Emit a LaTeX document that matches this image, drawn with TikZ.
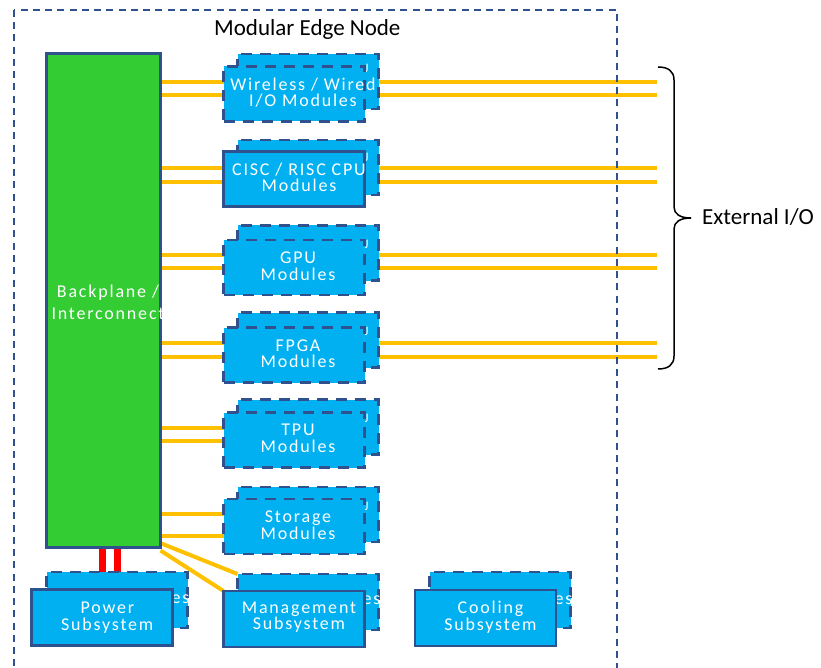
\documentclass[tikz,border=0pt]{standalone}
\usepackage{fontspec}
\setmainfont{Carlito}
\newfontfamily\spacedfont[LetterSpace=10]{Carlito}
\usetikzlibrary{calc}
\definecolor{boxblue}{HTML}{00B0F0}
\definecolor{edgeblue}{HTML}{2F528F}
\definecolor{bpgreen}{HTML}{33CC33}
\definecolor{wire}{HTML}{FFC000}
\definecolor{pwr}{HTML}{FF0000}
\pgfdeclarelayer{bg}
\pgfsetlayers{bg,main}
\begin{document}
\begin{tikzpicture}[x=1pt,y=-1pt,
  modbox/.style={rectangle, draw=edgeblue, fill=boxblue, line width=2.75pt,
    minimum width=141pt, minimum height=55pt, inner sep=0pt, outer sep=0pt},
  lowbox/.style={modbox, minimum height=56pt},
  dashbox/.style={modbox, dash pattern=on 11pt off 8pt},
  lowdash/.style={lowbox, dash pattern=on 11pt off 8pt},
  modtext/.style={text=white, font=\spacedfont\fontsize{18}{16.5}\selectfont, align=center, inner sep=0pt},
  frag/.style={text=white, font=\spacedfont\fontsize{18}{16.5}\selectfont, inner sep=0pt},
  jfrag/.style={text=white, font=\spacedfont\fontsize{13}{13}\selectfont, inner sep=0pt},
  wireline/.style={draw=wire, line width=4pt},
  pline/.style={draw=pwr, line width=7pt},
  outerbox/.style={draw=edgeblue, line width=1.75pt, dash pattern=on 7pt off 5.25pt},
  bigtext/.style={font=\fontsize{23}{27}\selectfont, inner sep=0pt, text=black},
  bracepath/.style={draw=black, line width=1.5pt}
]
\useasboundingbox (0,0) rectangle (821,668);
\clip (0,0) rectangle (821,668);

% outer node frame
\draw[outerbox] (14,10) rectangle (617,700);
\node[bigtext, anchor=base west] (title) at (214,36) {Modular Edge Node};

% backplane
\node[rectangle, draw=edgeblue, fill=bpgreen, line width=3pt, minimum width=114pt,
  minimum height=494pt, inner sep=0pt, outer sep=0pt] (bp) at (103.5,300.5) {};
\node[modtext, font=\spacedfont\fontsize{18}{22}\selectfont] (bpt) at ($(bp.center)+(4.5,1.5)$) {Backplane /\\Interconnect};

% row 1
\node[dashbox] (r1b) at (308,81.5) {};
\node[jfrag] (r1j) at ($(r1b.north east)+(-12,14)$) {J};
\node[dashbox] (r1f) at (294,94) {};
\node[modtext] (r1t) at ($(r1f.center)+(9,-1.5)$) {Wireless / Wired\\I/O Modules};
% row 2
\node[dashbox] (r2b) at (308,167.5) {};
\node[jfrag] (r2j) at ($(r2b.north east)+(-12,17)$) {J};
\node[modbox] (r2f) at (294,179) {};
\node[modtext] (r2t) at ($(r2f.center)+(5,-1.5)$) {CISC / RISC CPU\\Modules};
% row 3
\node[dashbox] (r3b) at (308,253) {};
\node[jfrag] (r3j) at ($(r3b.north east)+(-12,19)$) {J};
\node[dashbox] (r3f) at (294,267.5) {};
\node[modtext] (r3t) at ($(r3f.center)+(4,-1.5)$) {GPU\\Modules};
% row 4
\node[dashbox] (r4b) at (308,340) {};
\node[jfrag] (r4j) at ($(r4b.north east)+(-12,19)$) {J};
\node[dashbox] (r4f) at (294,355) {};
\node[modtext] (r4t) at ($(r4f.center)+(4,-1.5)$) {FPGA\\Modules};
% row 5
\node[dashbox] (r5b) at (308,427) {};
\node[jfrag] (r5j) at ($(r5b.north east)+(-12,19)$) {J};
\node[dashbox] (r5f) at (294,440) {};
\node[modtext] (r5t) at ($(r5f.center)+(4,-1.5)$) {TPU\\Modules};
% row 6
\node[dashbox] (r6b) at (308,514.5) {};
\node[jfrag] (r6j) at ($(r6b.north east)+(-12,19)$) {J};
\node[dashbox] (r6f) at (294,526.5) {};
\node[modtext] (r6t) at ($(r6f.center)+(4,-1.5)$) {Storage\\Modules};

% bottom subsystems
\node[lowdash] (pwb) at (117,600) {};
\node[frag, anchor=east] (pwe) at ($(pwb.east)+(2,-1)$) {es};
\node[lowbox] (pwf) at (102.3,617.5) {};
\node[modtext] (pwt) at ($(pwf.center)+(5,0)$) {Power\\Subsystem};

\node[lowdash] (mgb) at (308,602) {};
\node[frag, anchor=east] (mge) at ($(mgb.east)+(2,-2)$) {es};
\node[lowbox] (mgf) at (294,619) {};
\node[modtext] (mgt) at ($(mgf.center)+(5,-2)$) {Management\\Subsystem};

\node[lowdash] (clb) at (500,600) {};
\node[frag, anchor=east] (cle) at ($(clb.east)+(2,0)$) {es};
\node[lowbox] (clf) at (485.5,618) {};
\node[modtext] (clt) at ($(clf.center)+(5,-1)$) {Cooling\\Subsystem};

% external I/O
\node[bigtext, anchor=base west] (ext) at (702,225) {External I/O};
\coordinate (x1a) at (657,82);  \coordinate (x1b) at (657,95);
\coordinate (x2a) at (657,168); \coordinate (x2b) at (657,182);
\coordinate (x3a) at (657,255); \coordinate (x3b) at (657,268);
\coordinate (x4a) at (657,343); \coordinate (x4b) at (657,357);
\draw[bracepath] (658,67) .. controls (668,67) and (674,71) .. (674,80)
  -- (674,207) .. controls (674,214) and (680,218) .. (691,218)
  .. controls (680,218) and (674,222) .. (674,229)
  -- (674,356) .. controls (674,365) and (668,369) .. (658,369);

\begin{pgfonlayer}{bg}
  \draw[wireline] (bp.east |- x1a) -- (x1a);
  \draw[wireline] (bp.east |- x1b) -- (x1b);
  \draw[wireline] (bp.east |- x2a) -- (x2a);
  \draw[wireline] (bp.east |- x2b) -- (x2b);
  \draw[wireline] (bp.east |- x3a) -- (x3a);
  \draw[wireline] (bp.east |- x3b) -- (x3b);
  \draw[wireline] (bp.east |- x4a) -- (x4a);
  \draw[wireline] (bp.east |- x4b) -- (x4b);
  \draw[wireline] (bp.east |- 0,428) -- (r5f.west |- 0,428);
  \draw[wireline] (bp.east |- 0,441) -- (r5f.west |- 0,441);
  \draw[wireline] (bp.east |- 0,514) -- (r6f.west |- 0,514);
  \draw[wireline] (bp.east |- 0,536) -- (r6f.west |- 0,536);
  \draw[wireline] ($(bp.south east)+(1,-4)$) -- (mgb.north west);
  \draw[wireline] ($(bp.south east)+(0,3)$) -- (mgf.north west);
  \draw[pline] (bp.south -| pwf.north) -- (pwf.north);
  \draw[pline] (bp.south -| pwb.north) -- (pwb.north);
\end{pgfonlayer}
\end{tikzpicture}
\end{document}
